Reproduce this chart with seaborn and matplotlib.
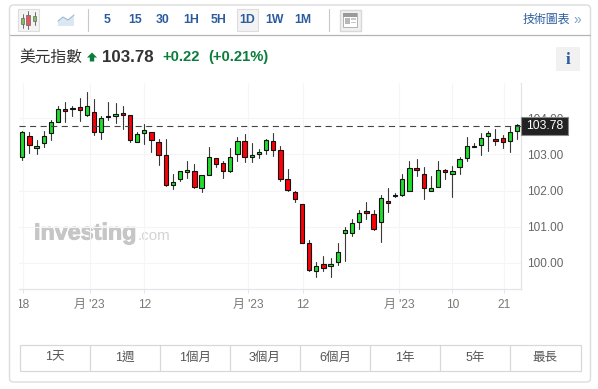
import matplotlib
matplotlib.use("Agg")
import matplotlib.patheffects as pe
import matplotlib.pyplot as plt
import pandas as pd
import seaborn as sns
from matplotlib.patches import FancyBboxPatch, Polygon, Rectangle
from matplotlib.transforms import Bbox

# Candle values, left to right
opens = [102.94, 103.52, 103.17, 103.30, 103.58, 103.88, 104.24, 104.24, 104.32, 104.08,
         104.18, 103.61, 104.07, 104.05, 104.13, 104.10, 103.33, 103.58, 103.61, 103.33,
         102.97, 102.14, 102.33, 102.50, 102.53, 102.06, 102.42, 102.89, 102.75, 102.53,
         103.00, 103.36, 102.92, 103.00, 103.11, 103.36, 103.11, 102.31, 101.95, 101.62,
         100.55, 99.78, 99.97, 99.91, 100.02, 100.82, 100.82, 101.13, 101.43, 101.35,
         101.13, 101.71, 101.89, 101.88, 101.98, 102.61, 102.47, 102.00, 102.09, 102.56,
         102.47, 102.64, 102.89, 103.21, 103.25, 103.50, 103.41, 103.44, 103.36, 103.64]
highs = [103.64, 103.63, 103.39, 103.65, 103.95, 104.33, 104.44, 104.34, 104.55, 104.71,
         104.52, 104.05, 104.44, 104.41, 104.33, 104.10, 103.63, 103.83, 103.61, 103.41,
         103.41, 102.45, 102.53, 102.81, 102.72, 102.42, 103.19, 102.89, 102.81, 103.17,
         103.47, 103.55, 103.30, 103.14, 103.41, 103.58, 103.22, 102.59, 101.98, 101.62,
         100.63, 100.02, 100.19, 100.13, 100.55, 100.99, 101.21, 101.46, 101.68, 101.46,
         101.87, 102.06, 101.93, 102.45, 102.81, 102.86, 102.64, 102.39, 102.81, 102.59,
         102.67, 102.92, 103.47, 103.30, 103.58, 103.64, 103.69, 103.53, 103.75, 103.83]
lows = [102.83, 103.03, 103.00, 103.19, 103.40, 103.88, 103.88, 104.07, 103.92, 104.05,
        103.53, 103.41, 103.96, 103.86, 103.70, 103.33, 103.33, 103.28, 103.07, 102.70,
        102.13, 102.03, 102.27, 102.36, 102.06, 101.95, 102.42, 102.64, 102.36, 102.50,
        102.81, 102.78, 102.78, 102.89, 103.00, 102.95, 102.26, 101.98, 101.68, 100.55,
        99.78, 99.61, 99.78, 99.61, 99.94, 100.05, 100.74, 100.93, 101.21, 100.91,
        100.58, 101.40, 101.81, 101.86, 101.98, 102.39, 101.76, 102.00, 102.09, 102.31,
        101.81, 102.45, 102.81, 103.19, 102.97, 103.08, 103.25, 103.17, 103.06, 103.41]
closes = [103.61, 103.25, 103.22, 103.52, 103.90, 104.26, 104.19, 104.29, 104.22, 104.34,
          103.61, 104.01, 104.02, 104.12, 104.08, 103.39, 103.57, 103.66, 103.39, 102.97,
          102.14, 102.25, 102.53, 102.56, 102.09, 102.42, 102.92, 102.72, 102.53, 102.92,
          103.36, 102.94, 102.97, 103.06, 103.39, 103.11, 102.31, 102.01, 101.76, 100.55,
          99.80, 99.91, 99.86, 99.97, 100.30, 100.91, 101.10, 101.37, 101.37, 100.93,
          101.79, 101.65, 101.84, 102.31, 102.61, 102.56, 102.06, 102.06, 102.56, 102.50,
          102.53, 102.86, 103.22, 103.22, 103.44, 103.58, 103.36, 103.33, 103.61, 103.80]

last_price = 103.78
y_ticks = [100, 101, 102, 103, 104]
x_ticks = [0.03, 9.38, 17.0, 31.5, 39.1, 52.6, 60.0, 67.15]
x_labels = ["18", "月 '23", "12", "月 '23", "12", "月 '23", "10", "21"]
intervals = ["5", "15", "30", "1H", "5H", "1D", "1W", "1M"]
ranges = ["1天", "1週", "1個月", "3個月", "6個月", "1年", "5年", "最長"]

FONT = ["Liberation Sans", "Noto Sans CJK TC", "DejaVu Sans"]
BLUE = "#2b5c9e"
GREEN = "#0a7d3b"
UP = "#1fdc2e"
DOWN = "#fb0007"

sns.set_theme(style="white")
plt.rcParams["font.family"] = FONT

W, H = 598, 389
fig = plt.figure(figsize=(W / 100, H / 100), dpi=100, facecolor="white")

# Page furniture drawn in pixel coordinates, under the chart
ui = fig.add_axes([0, 0, 1, 1], zorder=0)
ui.set_xlim(0, W)
ui.set_ylim(H, 0)
ui.axis("off")

ui.add_patch(FancyBboxPatch((9.5, 5), 581, 377, boxstyle="round,pad=0,rounding_size=4",
                            fc="white", ec="#dcdcdc", lw=1))
ui.plot([10, 590], [35, 35], color="#b4b4b4", lw=0.9)
ui.plot([87.5, 87.5], [9, 31], color="#c8c8c8", lw=0.8)
ui.plot([328.5, 328.5], [9, 31], color="#c8c8c8", lw=0.8)

# candle icon
ui.add_patch(Rectangle((17.5, 9), 21, 21.5, fc="#f3f3f3", ec="#dddddd", lw=0.8))
for cx, top, bot, color in [(22.5, 18, 24, "#79c35a"), (28, 15, 25, "#e8555a"), (34.5, 15.5, 21, "#79c35a")]:
    ui.plot([cx, cx], [top - 4, bot + 4], color="#555555", lw=0.6)
    ui.add_patch(Rectangle((cx - 1.7, top), 3.4, bot - top, fc=color, ec="#666666", lw=0.5, zorder=3))

# line icon
ui.add_patch(Polygon([(58, 21), (63, 17), (68, 20), (74, 15), (74, 26), (58, 26)],
                     fc="#dbe8f3", ec="none"))
ui.plot([58, 63, 68, 74], [21, 17, 20, 15], color="#9db9d3", lw=0.8)

# interval buttons
ui.add_patch(Rectangle((236.5, 9), 21.5, 21.5, fc="#f3f3f3", ec="#dddddd", lw=0.8))
for label, cx in zip(intervals, [106.7, 134.7, 162.7, 190.7, 218.7, 247, 274.7, 302.5]):
    ui.text(cx, 20, label, color=BLUE, fontsize=8.8, fontweight="bold", ha="center", va="center")

# layout icon
ui.add_patch(Rectangle((339.5, 9.5), 21, 21, fc="#f0f0f0", ec="#d8d8d8", lw=1))
ui.add_patch(Rectangle((343, 13), 14, 14, fc="white", ec="#a8a8a8", lw=0.6))
ui.add_patch(Rectangle((343, 13), 14, 3.5, fc="#9a9a9a", ec="none"))
ui.add_patch(Rectangle((344.5, 18), 5, 6, fc="#b8b8b8", ec="none"))
ui.add_patch(Rectangle((351, 18), 5, 1.5, fc="#c8c8c8", ec="none"))
ui.add_patch(Rectangle((351, 21.5), 5, 1.5, fc="#c8c8c8", ec="none"))

ui.text(523, 20, "技術圖表", color=BLUE, fontsize=8.6, ha="left", va="center")
ui.text(577, 19.5, "»", color="#7fa0c8", fontsize=10, ha="center", va="center")

# quote line
ui.text(19, 57, "美元指數", color="#333333", fontsize=11.3, ha="left", va="center")
ui.add_patch(Polygon([(92, 52.5), (97, 57.5), (94.2, 57.5), (94.2, 61.5), (89.8, 61.5), (89.8, 57.5), (87, 57.5)],
                     fc=GREEN, ec="none"))
ui.text(102, 57, "103.78", color="#333333", fontsize=12.2, fontweight="bold", ha="left", va="center")
ui.text(162, 57, "+0.22", color=GREEN, fontsize=10.6, fontweight="bold", ha="left", va="center")
ui.text(208, 57, "(+0.21%)", color=GREEN, fontsize=10.6, fontweight="bold", ha="left", va="center")

ui.add_patch(Rectangle((556, 47), 24, 24, fc="#f1f1f1", ec="none"))
ui.text(568, 59.5, "i", color=BLUE, fontsize=12.5, fontweight="bold", family="Liberation Serif",
        ha="center", va="center")

# watermark
ui.text(34, 233, "Investing", color="#c6c6c6", fontsize=16.8, fontweight="bold", ha="left", va="center",
        path_effects=[pe.withStroke(linewidth=0.7, foreground="#c6c6c6")])
ui.text(138, 236, ".com", color="#d4d4d4", fontsize=11, ha="left", va="center")

# range buttons
ui.add_patch(Rectangle((19.5, 344.5), 561, 26.5, fc="none", ec="#d8d8d8", lw=0.9))
for n, label in enumerate(ranges):
    if n > 0:
        ui.plot([19.5 + 70.1 * n] * 2, [344.5, 371], color="#d8d8d8", lw=0.9)
    ui.text(19.5 + 70.1 * (n + 0.5), 357.5, label, color="#555555", fontsize=9, ha="center", va="center")

# Price chart
ax = fig.add_axes([19 / W, 1 - 288.7 / H, (521.3 - 19) / W, (288.7 - 83) / H], zorder=1)
ax.patch.set_alpha(0)

df = pd.DataFrame({"open": opens, "high": highs, "low": lows, "close": closes})
df["i"] = df.index
wicks = df.melt(id_vars="i", value_vars=["high", "low"], value_name="price")

ax.set_axisbelow(True)
ax.grid(True, color="#f3f5f8", lw=0.8)
sns.lineplot(data=wicks, x="i", y="price", units="i", estimator=None, color="#3a3a3a",
             lw=0.8, ax=ax, zorder=2, legend=False)

body_bottom = df[["open", "close"]].min(axis=1)
body_height = (df["close"] - df["open"]).abs()
body_colors = [UP if c >= o else DOWN for o, c in zip(opens, closes)]
ax.bar(df["i"], body_height, bottom=body_bottom, width=0.6, color=body_colors,
       edgecolor="#111111", lw=0.8, zorder=3)

ax.axhline(last_price, color="#444444", lw=0.8, dashes=(5.5, 4), zorder=4)

ax.set_xlim(-0.46, 69.6)
ax.set_ylim(99.29, 104.97)
ax.set_xticks(x_ticks)
ax.set_xticklabels(x_labels)
ax.set_yticks(y_ticks)
ax.set_yticklabels([f"{v:.2f}" for v in y_ticks])
ax.set_xlabel("")
ax.set_ylabel("")
ax.yaxis.tick_right()
ax.tick_params(axis="x", length=3.2, width=0.7, color="#e2e5ea", labelcolor="#777777",
               labelsize=8.6, pad=4, bottom=True)
ax.tick_params(axis="y", length=0, labelcolor="#666666", labelsize=8.5, pad=4, right=False)
for name in ["top", "left"]:
    ax.spines[name].set_visible(False)
for name in ["bottom", "right"]:
    ax.spines[name].set_color("#e2e5ea")
    ax.spines[name].set_linewidth(0.9)

# first label is cut off at the chart's left edge in the source
first = ax.get_xticklabels()[0]
first.set_clip_on(True)
first.set_clip_box(Bbox([[19, 0], [60, H]]))

# last price tag sits over the 104.00 label
ax.add_patch(Rectangle((1.0, last_price - 0.245), 46.5 / (521.3 - 19), 0.49,
                       transform=ax.get_yaxis_transform(), fc="#222222", ec="#888888", lw=0.8,
                       clip_on=False, zorder=6))
ax.text(1 + 23.5 / (521.3 - 19), last_price, f"{last_price:.2f}", transform=ax.get_yaxis_transform(),
        color="white", fontsize=8.7, ha="center", va="center", clip_on=False, zorder=7)

fig.savefig("out.png", dpi=100)
